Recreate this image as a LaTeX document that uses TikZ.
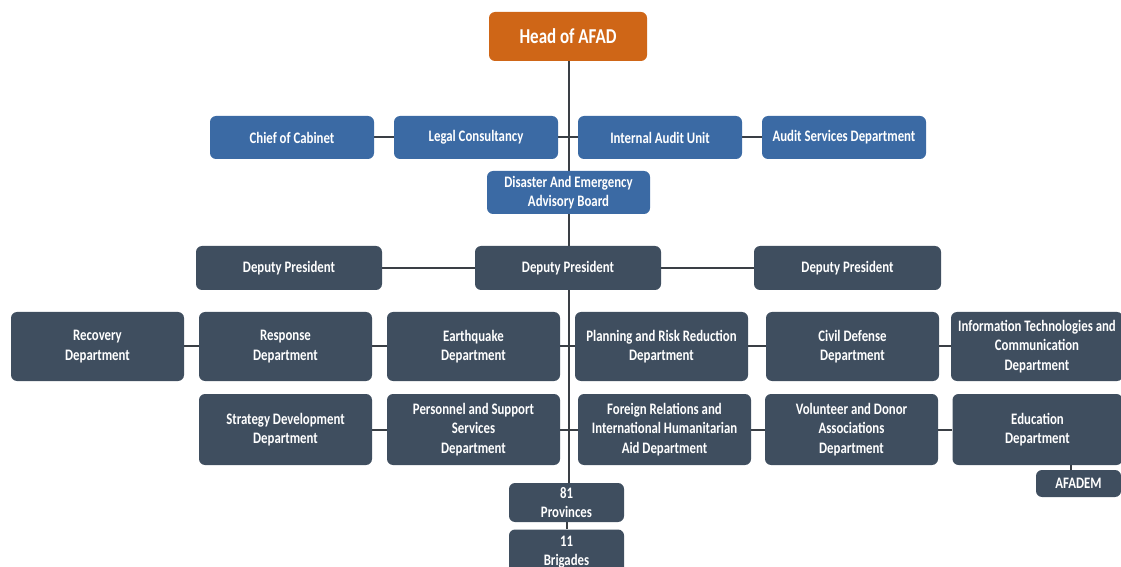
\documentclass[tikz,border=0pt]{standalone}
\usepackage{fontspec}
\setmainfont{Carlito}[FakeStretch=0.8]
\usetikzlibrary{backgrounds}
\definecolor{headorange}{HTML}{CF6617}
\definecolor{boxblue}{HTML}{3B6AA4}
\definecolor{boxdark}{HTML}{3F4E5F}
\definecolor{linegray}{HTML}{3A3F45}
\tikzset{
  base/.style={rounded corners=3pt, inner sep=0pt, align=center, text=white,
    font=\fontsize{8}{9.6}\selectfont\bfseries, draw=none},
  headbox/.style={base, fill=headorange, font=\fontsize{10.6}{12}\selectfont\bfseries},
  bluebox/.style={base, fill=boxblue},
  darkbox/.style={base, fill=boxdark},
  link/.style={draw=linegray, line width=1pt},
}
\begin{document}
\begin{tikzpicture}[x=0.5pt,y=-0.5pt]
\useasboundingbox (0,0) rectangle (1121,567);
\clip (0,0) rectangle (1121,567);
% top
\node[headbox, minimum width=79pt, minimum height=24.5pt] (head) at (568,36.5) {Head of AFAD};
\node[bluebox, minimum width=82pt, minimum height=21.5pt] (chief) at (292,137.5) {Chief of Cabinet};
\node[bluebox, minimum width=82pt, minimum height=21.5pt] (legal) at (476,137.5) {Legal Consultancy};
\node[bluebox, minimum width=82pt, minimum height=21.5pt] (internal) at (660,137.5) {Internal Audit Unit};
\node[bluebox, minimum width=82pt, minimum height=21.5pt] (audit) at (844,137.5) {Audit Services Department};
\node[bluebox, minimum width=81.5pt, minimum height=21.5pt] (board) at (568.5,192.5) {Disaster And Emergency\\Advisory Board};
% deputies
\node[darkbox, minimum width=93pt, minimum height=22pt] (depL) at (289,268) {Deputy President};
\node[darkbox, minimum width=93pt, minimum height=22pt] (depC) at (568,268) {Deputy President};
\node[darkbox, minimum width=93.5pt, minimum height=22pt] (depR) at (847.5,268) {Deputy President};
% departments row 1
\node[darkbox, minimum width=86.5pt, minimum height=34.5pt] (recovery) at (97.5,346.5) {Recovery\\Department};
\node[darkbox, minimum width=86.5pt, minimum height=34.5pt] (response) at (285.5,346.5) {Response\\Department};
\node[darkbox, minimum width=86.5pt, minimum height=34.5pt] (earthquake) at (473.5,346.5) {Earthquake\\Department};
\node[darkbox, minimum width=86.5pt, minimum height=34.5pt] (planning) at (661.5,346.5) {Planning and Risk Reduction\\Department};
\node[darkbox, minimum width=86.5pt, minimum height=34.5pt] (civil) at (852.5,346.5) {Civil Defense\\Department};
\node[darkbox, minimum width=86pt, minimum height=34.5pt] (it) at (1037,346.5) {Information Technologies and\\Communication\\Department};
% departments row 2
\node[darkbox, minimum width=86.5pt, minimum height=35.5pt] (strategy) at (285.5,429.5) {Strategy Development\\Department};
\node[darkbox, minimum width=86.5pt, minimum height=35.5pt] (personnel) at (473.5,429.5) {Personnel and Support\\Services\\Department};
\node[darkbox, minimum width=86.5pt, minimum height=35.5pt] (foreign) at (664.5,429.5) {Foreign Relations and\\International Humanitarian\\Aid Department};
\node[darkbox, minimum width=86.5pt, minimum height=35.5pt] (volunteer) at (851.5,429.5) {Volunteer and Donor\\Associations\\Department};
\node[darkbox, minimum width=85pt, minimum height=35.5pt] (education) at (1037.5,429.5) {Education\\Department};
\node[darkbox, minimum width=42.5pt, minimum height=13.5pt] (afadem) at (1078.5,483.5) {AFADEM};
% provinces / brigades
\node[darkbox, minimum width=57.5pt, minimum height=19.5pt] (provinces) at (566.5,502.5) {81\\Provinces};
\node[darkbox, minimum width=57.5pt, minimum height=22.5pt] (brigades) at (566.5,552) {11\\Brigades};
% connectors
\begin{scope}[on background layer]
  \coordinate (spineTop) at ([xshift=0.5pt]head.south);
  \draw[link] (spineTop) -- (spineTop |- provinces.north);
  \draw[link] (provinces) -- (brigades);
  \draw[link] (chief.east) -- (legal.west);
  \draw[link] (legal.east) -- (internal.west);
  \draw[link] (internal.east) -- (audit.west);
  \draw[link] (depL.east) -- (depC.west);
  \draw[link] (depC.east) -- (depR.west);
  \draw[link] (recovery.east) -- (response.west);
  \draw[link] (response.east) -- (earthquake.west);
  \draw[link] (earthquake.east) -- (planning.west);
  \draw[link] (planning.east) -- (civil.west);
  \draw[link] (civil.east) -- (it.west);
  \draw[link] (strategy.east) -- (personnel.west);
  \draw[link] (personnel.east) -- (foreign.west);
  \draw[link] (foreign.east) -- (volunteer.west);
  \draw[link] (volunteer.east) -- (education.west);
  \coordinate (afTop) at ([xshift=-3.75pt]afadem.north);
  \draw[link] (afTop |- education.south) -- (afTop);
\end{scope}
\end{tikzpicture}
\end{document}
